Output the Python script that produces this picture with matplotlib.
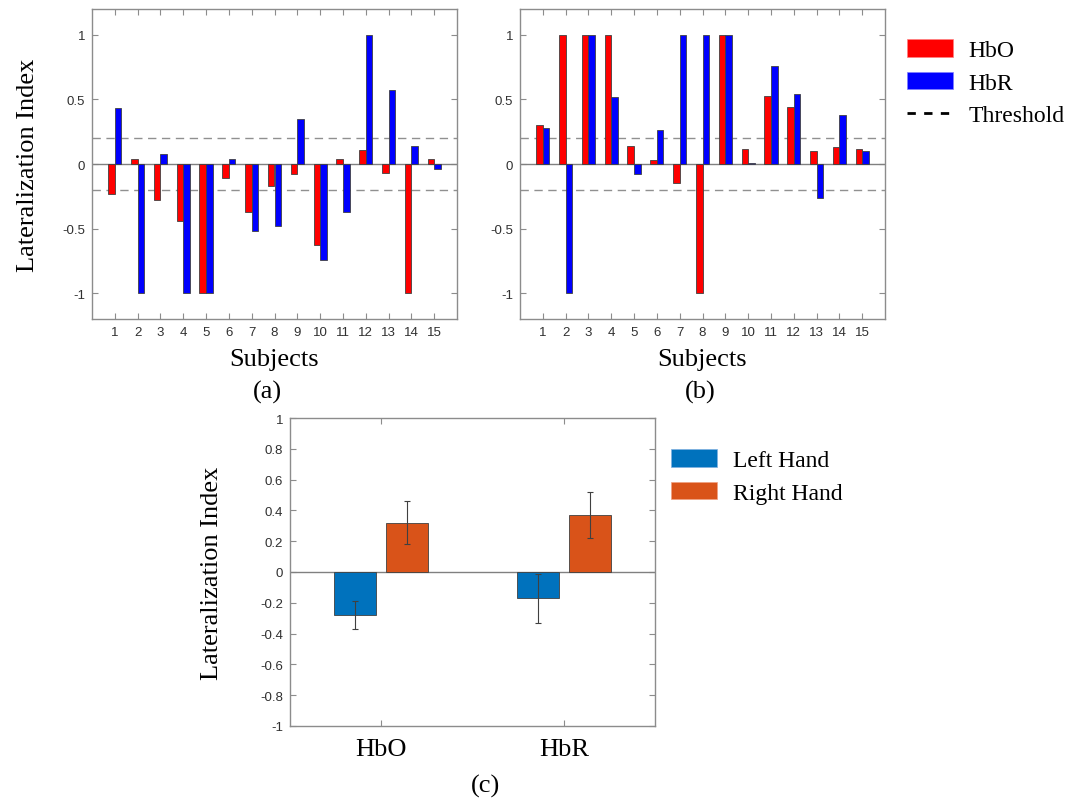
import numpy as np
import matplotlib.pyplot as plt
from matplotlib.patches import Patch
from matplotlib.lines import Line2D

# (a) and (b): per subject lateralization index
subjects = list(range(1, 16))
hbo_a = [-0.23, 0.04, -0.28, -0.44, -1.0, -0.11, -0.37, -0.17, -0.08, -0.63, 0.04, 0.11, -0.07, -1.0, 0.04]
hbr_a = [0.43, -1.0, 0.08, -1.0, -1.0, 0.04, -0.52, -0.48, 0.35, -0.74, -0.37, 1.0, 0.57, 0.14, -0.04]
hbo_b = [0.30, 1.0, 1.0, 1.0, 0.14, 0.03, -0.15, -1.0, 1.0, 0.12, 0.53, 0.44, 0.10, 0.13, 0.12]
hbr_b = [0.28, -1.0, 1.0, 0.52, -0.08, 0.26, 1.0, 1.0, 1.0, 0.01, 0.76, 0.54, -0.26, 0.38, 0.10]
threshold = 0.2

# (c): group means with error bars
groups = ["HbO", "HbR"]
left_mean = [-0.28, -0.17]
left_err = [0.093, 0.16]
right_mean = [0.32, 0.37]
right_err = [0.14, 0.147]

W, H = 1082, 803
serif = ["Liberation Serif", "DejaVu Serif"]
sans = ["Liberation Sans", "DejaVu Sans"]
big = 19
small = 9.5
spine_col = "#8c8c8c"


def box(left, top, right, bottom):
    return [left / W, 1 - bottom / H, (right - left) / W, (bottom - top) / H]


def style(ax):
    for s in ax.spines.values():
        s.set_color(spine_col)
        s.set_linewidth(1.0)
    ax.tick_params(direction="in", length=4, width=0.8, color=spine_col,
                   top=True, right=True, labelsize=small, labelcolor="#303030", pad=5)
    for lab in ax.get_xticklabels() + ax.get_yticklabels():
        lab.set_family(sans)


fig = plt.figure(figsize=(W / 100, H / 100), dpi=100)

w = 0.29
for pos, hbo, hbr, tag, tx in [((92, 10, 457, 320), hbo_a, hbr_a, "(a)", 267),
                               ((520, 10, 885, 320), hbo_b, hbr_b, "(b)", 700)]:
    ax = fig.add_axes(box(*pos))
    x = np.array(subjects)
    ax.bar(x - w / 2, hbo, w, color="#ff0000", edgecolor="#404040", linewidth=0.6, zorder=3)
    ax.bar(x + w / 2, hbr, w, color="#0000ff", edgecolor="#404040", linewidth=0.6, zorder=3)
    ax.axhline(0, color="#808080", lw=1.0, zorder=2)
    ax.axhline(threshold, color="#909090", lw=1.0, ls=(0, (6, 4)), zorder=2)
    ax.axhline(-threshold, color="#909090", lw=1.0, ls=(0, (6, 4)), zorder=2)
    ax.set_xlim(0, 16)
    ax.set_ylim(-1.2, 1.2)
    ax.set_xticks(subjects)
    ax.set_yticks([-1, -0.5, 0, 0.5, 1])
    ax.set_yticklabels(["-1", "-0.5", "0", "0.5", "1"])
    style(ax)
    ax.set_xlabel("Subjects", family=serif, fontsize=big, labelpad=7)
    fig.text(tx / W, 1 - 392 / H, tag, family=serif, fontsize=big, ha="center", va="center")
    if tag == "(a)":
        ax.set_ylabel("Lateralization Index", family=serif, fontsize=big, labelpad=17)

handles = [Patch(facecolor="#ff0000", edgecolor="#ff8080", lw=0.5),
           Patch(facecolor="#0000ff", edgecolor="#8080ff", lw=0.5),
           Line2D([], [], color="black", lw=2, ls=(0, (3, 3)))]
fig.legend(handles, ["HbO", "HbR", "Threshold"], loc="upper left",
           bbox_to_anchor=(886 / W, 1 - 19 / H), frameon=False,
           prop={"family": serif, "size": big - 2}, handlelength=1.95,
           handleheight=0.75, handletextpad=0.65, labelspacing=0.45)

axc = fig.add_axes(box(290, 419, 655, 727))
xc = np.arange(1, len(groups) + 1)
bw = 0.23
off = 0.143
axc.bar(xc - off, left_mean, bw, yerr=left_err, color="#0072BD", edgecolor="#404040",
        linewidth=0.6, zorder=3, capsize=2.5,
        error_kw={"ecolor": "#404040", "elinewidth": 0.8, "capthick": 0.8})
axc.bar(xc + off, right_mean, bw, yerr=right_err, color="#D95319", edgecolor="#404040",
        linewidth=0.6, zorder=3, capsize=2.5,
        error_kw={"ecolor": "#404040", "elinewidth": 0.8, "capthick": 0.8})
axc.axhline(0, color="#808080", lw=1.0, zorder=2)
axc.set_xlim(0.5, 2.5)
axc.set_ylim(-1, 1)
axc.set_xticks(xc)
axc.set_yticks(np.round(np.arange(-1, 1.01, 0.2), 1))
axc.set_yticklabels(["-1", "-0.8", "-0.6", "-0.4", "-0.2", "0", "0.2", "0.4", "0.6", "0.8", "1"])
style(axc)
axc.set_xticklabels(groups, family=serif, fontsize=big, color="black")
axc.tick_params(axis="x", pad=9)
axc.set_ylabel("Lateralization Index", family=serif, fontsize=big, labelpad=27)
fig.text(485 / W, 1 - 786 / H, "(c)", family=serif, fontsize=big, ha="center", va="center")

handles_c = [Patch(facecolor="#0072BD", edgecolor="#80b0e0", lw=0.5),
             Patch(facecolor="#D95319", edgecolor="#f0a080", lw=0.5)]
fig.legend(handles_c, ["Left Hand", "Right Hand"], loc="upper left",
           bbox_to_anchor=(650 / W, 1 - 429 / H), frameon=False,
           prop={"family": serif, "size": big - 2}, handlelength=1.95,
           handleheight=0.75, handletextpad=0.65, labelspacing=0.45)

fig.savefig("out.png", dpi=100)
